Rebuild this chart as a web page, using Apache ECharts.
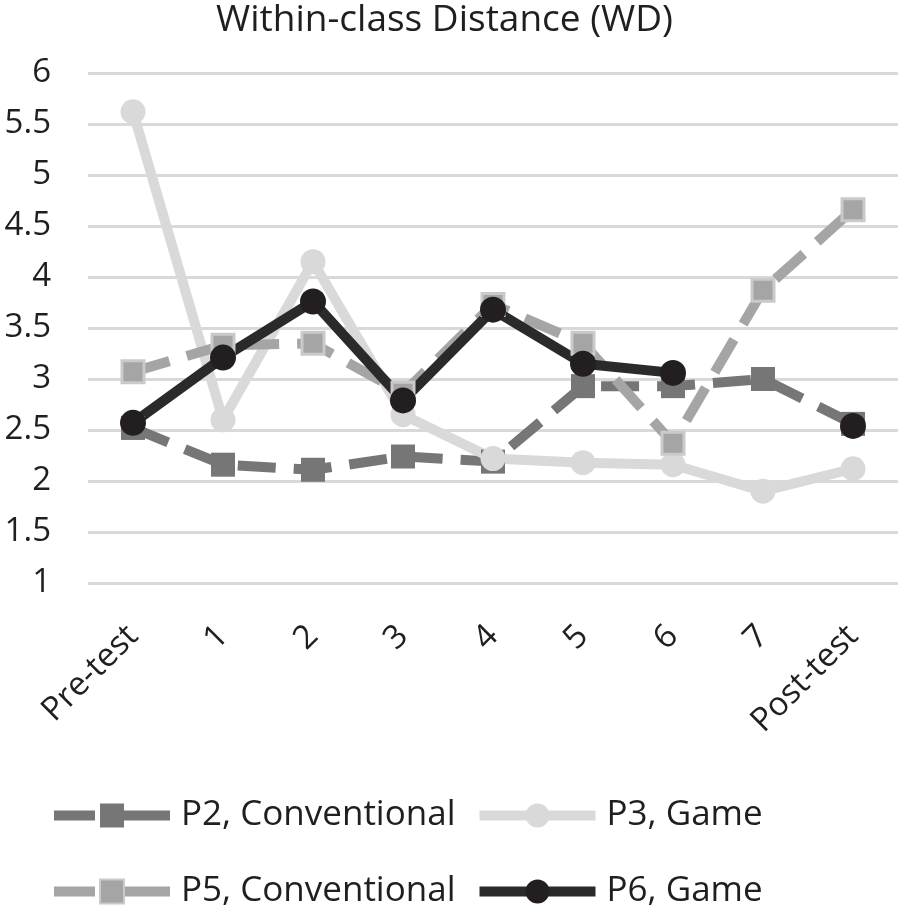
<!DOCTYPE html>
<html>
<head>
<meta charset="utf-8">
<script src="https://cdn.jsdelivr.net/npm/echarts@6/dist/echarts.min.js"></script>
<style>html,body{margin:0;padding:0;background:#fff}#c{width:904px;height:912px}</style>
</head>
<body>
<div id="c"></div>
<script>
const categories = ['Pre-test', '1', '2', '3', '4', '5', '6', '7', 'Post-test'];
const p2Conventional = [2.52, 2.16, 2.11, 2.24, 2.19, 2.93, 2.93, 3.00, 2.56];
const p3Game = [5.62, 2.60, 4.15, 2.65, 2.22, 2.18, 2.16, 1.90, 2.12];
const p5Conventional = [3.07, 3.33, 3.35, 2.86, 3.73, 3.35, 2.37, 3.87, 4.66];
const p6Game = [2.57, 3.21, 3.76, 2.79, 3.68, 3.15, 3.06, null, 2.54];
const seriesNames = ['P2, Conventional', 'P3, Game', 'P5, Conventional', 'P6, Game'];

const FONT = '"Open Sans"';
const TXT = '#1f1f1f';
const chart = echarts.init(document.getElementById('c'), null, {renderer: 'canvas'});
const dash = [38, 18];
const legendDash = [41, 12, 300, 0];
const legendCommon = {
  left: 49,
  itemWidth: 116,
  itemHeight: 30,
  itemGap: 19,
  padding: 0,
  lineStyle: {width: 10},
  textStyle: {fontFamily: FONT, fontSize: 35, color: TXT, padding: [0, 0, 0, 6]}
};
chart.setOption({
  animation: false,
  backgroundColor: '#fff',
  title: {
    text: 'Within-class Distance (WD)',
    left: 211,
    top: -3,
    textStyle: {fontFamily: FONT, fontSize: 37, fontWeight: 'normal', color: TXT}
  },
  legend: [
    Object.assign({}, legendCommon, {top: 798, data: [
      {name: seriesNames[0], lineStyle: {type: legendDash, width: 10}},
      {name: seriesNames[1]}
    ]}),
    Object.assign({}, legendCommon, {top: 874, data: [
      {name: seriesNames[2], lineStyle: {type: legendDash, width: 10}},
      {name: seriesNames[3]}
    ]})
  ],
  grid: {left: 88, right: 6, top: 73, height: 510, containLabel: false},
  xAxis: {
    type: 'category',
    data: categories,
    boundaryGap: true,
    axisLine: {show: false},
    axisTick: {show: false},
    axisLabel: {rotate: 45, margin: 48, fontFamily: FONT, fontSize: 33, color: TXT, interval: 0}
  },
  yAxis: {
    type: 'value',
    min: 1, max: 6, interval: 0.5,
    axisLine: {show: false},
    axisTick: {show: false},
    axisLabel: {margin: 37, fontFamily: FONT, fontSize: 33, color: TXT},
    splitLine: {lineStyle: {color: '#d9d9d9', width: 3}}
  },
  series: [
    {
      name: seriesNames[0], type: 'line', data: p2Conventional,
      symbol: 'rect', symbolSize: 24,
      lineStyle: {color: '#767676', width: 10, type: dash, cap: 'butt'},
      itemStyle: {color: '#767676', borderWidth: 0}
    },
    {
      name: seriesNames[1], type: 'line', data: p3Game,
      symbol: 'circle', symbolSize: 25,
      lineStyle: {color: '#d9d9d9', width: 10},
      itemStyle: {color: '#d9d9d9', borderWidth: 0}
    },
    {
      name: seriesNames[2], type: 'line', data: p5Conventional,
      symbol: 'rect', symbolSize: 22,
      lineStyle: {color: '#a5a5a5', width: 10, type: dash, cap: 'butt'},
      itemStyle: {color: '#a5a5a5', borderColor: '#cacaca', borderWidth: 3}
    },
    {
      name: seriesNames[3], type: 'line', data: p6Game,
      symbol: 'circle', symbolSize: 26, connectNulls: false,
      lineStyle: {color: '#2b2a2a', width: 10},
      itemStyle: {color: '#231f20', borderWidth: 0}
    }
  ]
});
</script>
</body>
</html>
